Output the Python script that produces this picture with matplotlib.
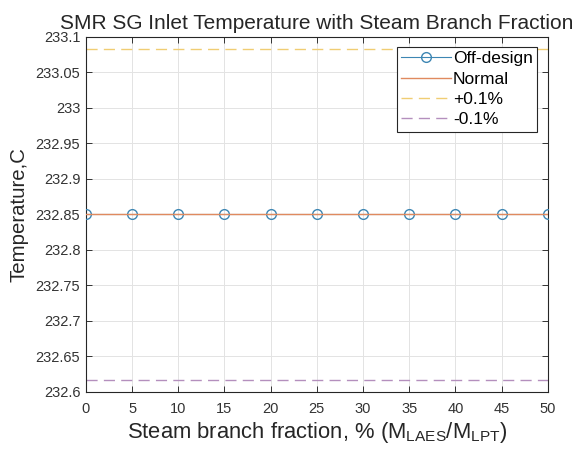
import numpy as np
import matplotlib
matplotlib.use("Agg")
import matplotlib.pyplot as plt

# Data
fraction = [0, 5, 10, 15, 20, 25, 30, 35, 40, 45, 50]
off_design = [232.85, 232.85, 232.85, 232.85, 232.85, 232.85, 232.85, 232.85, 232.85, 232.85, 232.85]
normal_value = 232.85
plus_value = 233.083
minus_value = 232.617
x_ticks = [0, 5, 10, 15, 20, 25, 30, 35, 40, 45, 50]
y_ticks = [232.6, 232.65, 232.7, 232.75, 232.8, 232.85, 232.9, 232.95, 233.0, 233.05, 233.1]
y_tick_labels = ["232.6", "232.65", "232.7", "232.75", "232.8", "232.85", "232.9", "232.95", "233", "233.05", "233.1"]

plt.rcParams['font.family'] = ['Liberation Sans', 'DejaVu Sans']

fig = plt.figure(figsize=(5.84, 4.5), dpi=100)
ax = fig.add_axes([0.147, 0.129, 0.791, 0.789])

x0, x1 = fraction[0], fraction[-1]
ax.plot(fraction, off_design, color='#3d86b3', lw=0.8, marker='o', mfc='none',
        ms=7, mew=1.0, label='Off-design', zorder=3)
ax.plot([x0, x1], [normal_value, normal_value], color='#e08a5f', lw=1.0,
        label='Normal', zorder=4)
ax.plot([x0, x1], [plus_value, plus_value], color='#f0cd73', lw=1.0, ls=(0, (8, 4.5)),
        label='+0.1%')
ax.plot([x0, x1], [minus_value, minus_value], color='#b48fbd', lw=1.0, ls=(0, (8, 4.5)),
        label='-0.1%')

ax.set_xlim(0, 50)
ax.set_ylim(232.6, 233.1)
ax.set_xticks(x_ticks)
ax.set_yticks(y_ticks)
ax.set_yticklabels(y_tick_labels)
ax.grid(True, color='#e3e3e3', lw=0.7)
ax.set_axisbelow(True)
ax.tick_params(direction='in', top=True, right=True, labelsize=10.5, colors='#333333',
               length=4, width=0.7)
ax.tick_params(axis='x', pad=7)
ax.tick_params(axis='y', pad=4)
for s in ax.spines.values():
    s.set_color('#262626')
    s.set_linewidth(0.8)

ax.set_title('SMR SG Inlet Temperature with Steam Branch Fraction', fontsize=15,
             color='#262626', pad=6)
ax.set_xlabel('Steam branch fraction, % (M$_{\\mathregular{LAES}}$/M$_{\\mathregular{LPT}}$)',
              fontsize=15.8, color='#262626', labelpad=3)
ax.set_ylabel('Temperature,C', fontsize=14.7, color='#262626', labelpad=5)

leg = ax.legend(loc='upper right', bbox_to_anchor=(0.977, 0.972),
                fontsize=12.5, fancybox=False, framealpha=1, edgecolor='#262626',
                handlelength=2.9, handletextpad=0.1, borderpad=0.25, labelspacing=0.3,
                borderaxespad=0)
leg.get_frame().set_linewidth(0.8)

fig.savefig('out.png', dpi=100)
